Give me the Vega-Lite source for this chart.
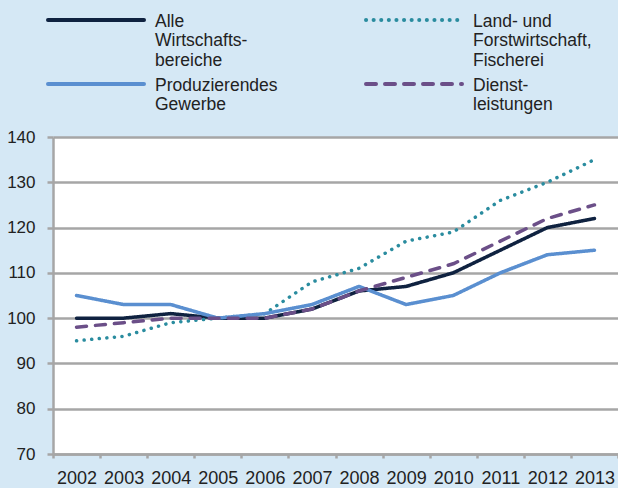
{
  "$schema": "https://vega.github.io/schema/vega-lite/v6.json",
  "width": 565,
  "height": 317,
  "autosize": {"type": "none"},
  "padding": {"left": 53, "top": 137, "right": 0, "bottom": 34},
  "background": "#d5e8f5",
  "config": {
    "font": "Liberation Sans",
    "view": {"fill": "white", "stroke": null}
  },
  "data": {
    "values": [
      {"year": "2002", "series": "Alle Wirtschaftsbereiche", "value": 100},
      {"year": "2003", "series": "Alle Wirtschaftsbereiche", "value": 100},
      {"year": "2004", "series": "Alle Wirtschaftsbereiche", "value": 101},
      {"year": "2005", "series": "Alle Wirtschaftsbereiche", "value": 100},
      {"year": "2006", "series": "Alle Wirtschaftsbereiche", "value": 100},
      {"year": "2007", "series": "Alle Wirtschaftsbereiche", "value": 102},
      {"year": "2008", "series": "Alle Wirtschaftsbereiche", "value": 106},
      {"year": "2009", "series": "Alle Wirtschaftsbereiche", "value": 107},
      {"year": "2010", "series": "Alle Wirtschaftsbereiche", "value": 110},
      {"year": "2011", "series": "Alle Wirtschaftsbereiche", "value": 115},
      {"year": "2012", "series": "Alle Wirtschaftsbereiche", "value": 120},
      {"year": "2013", "series": "Alle Wirtschaftsbereiche", "value": 122},
      {"year": "2002", "series": "Land- und Forstwirtschaft, Fischerei", "value": 95},
      {"year": "2003", "series": "Land- und Forstwirtschaft, Fischerei", "value": 96},
      {"year": "2004", "series": "Land- und Forstwirtschaft, Fischerei", "value": 99},
      {"year": "2005", "series": "Land- und Forstwirtschaft, Fischerei", "value": 100},
      {"year": "2006", "series": "Land- und Forstwirtschaft, Fischerei", "value": 101},
      {"year": "2007", "series": "Land- und Forstwirtschaft, Fischerei", "value": 108},
      {"year": "2008", "series": "Land- und Forstwirtschaft, Fischerei", "value": 111},
      {"year": "2009", "series": "Land- und Forstwirtschaft, Fischerei", "value": 117},
      {"year": "2010", "series": "Land- und Forstwirtschaft, Fischerei", "value": 119},
      {"year": "2011", "series": "Land- und Forstwirtschaft, Fischerei", "value": 126},
      {"year": "2012", "series": "Land- und Forstwirtschaft, Fischerei", "value": 130},
      {"year": "2013", "series": "Land- und Forstwirtschaft, Fischerei", "value": 135},
      {"year": "2002", "series": "Produzierendes Gewerbe", "value": 105},
      {"year": "2003", "series": "Produzierendes Gewerbe", "value": 103},
      {"year": "2004", "series": "Produzierendes Gewerbe", "value": 103},
      {"year": "2005", "series": "Produzierendes Gewerbe", "value": 100},
      {"year": "2006", "series": "Produzierendes Gewerbe", "value": 101},
      {"year": "2007", "series": "Produzierendes Gewerbe", "value": 103},
      {"year": "2008", "series": "Produzierendes Gewerbe", "value": 107},
      {"year": "2009", "series": "Produzierendes Gewerbe", "value": 103},
      {"year": "2010", "series": "Produzierendes Gewerbe", "value": 105},
      {"year": "2011", "series": "Produzierendes Gewerbe", "value": 110},
      {"year": "2012", "series": "Produzierendes Gewerbe", "value": 114},
      {"year": "2013", "series": "Produzierendes Gewerbe", "value": 115},
      {"year": "2002", "series": "Dienstleistungen", "value": 98},
      {"year": "2003", "series": "Dienstleistungen", "value": 99},
      {"year": "2004", "series": "Dienstleistungen", "value": 100},
      {"year": "2005", "series": "Dienstleistungen", "value": 100},
      {"year": "2006", "series": "Dienstleistungen", "value": 100},
      {"year": "2007", "series": "Dienstleistungen", "value": 102},
      {"year": "2008", "series": "Dienstleistungen", "value": 106},
      {"year": "2009", "series": "Dienstleistungen", "value": 109},
      {"year": "2010", "series": "Dienstleistungen", "value": 112},
      {"year": "2011", "series": "Dienstleistungen", "value": 117},
      {"year": "2012", "series": "Dienstleistungen", "value": 122},
      {"year": "2013", "series": "Dienstleistungen", "value": 125}
    ]
  },
  "mark": {"type": "line", "strokeWidth": 3.5, "strokeCap": "round", "strokeJoin": "round"},
  "encoding": {
    "x": {
      "field": "year",
      "type": "ordinal",
      "scale": {"type": "band", "paddingInner": 0, "paddingOuter": 0},
      "axis": {
        "title": null,
        "labelAngle": 0,
        "labelFontSize": 18,
        "labelColor": "#222222",
        "labelPadding": 11,
        "tickBand": "extent",
        "tickSize": 4,
        "tickWidth": 2.5,
        "tickColor": "#a6a6a6",
        "domainColor": "#a6a6a6",
        "domainWidth": 2.5,
        "grid": false
      }
    },
    "y": {
      "field": "value",
      "type": "quantitative",
      "scale": {"domain": [70, 140], "nice": false, "zero": false},
      "axis": {
        "title": null,
        "values": [70, 80, 90, 100, 110, 120, 130, 140],
        "labelFontSize": 17,
        "labelColor": "#222222",
        "labelPadding": 12,
        "tickSize": 6,
        "tickWidth": 2.5,
        "tickColor": "#a6a6a6",
        "domainColor": "#a6a6a6",
        "domainWidth": 2.5,
        "grid": true,
        "gridColor": "#a6a6a6",
        "gridWidth": 2.5
      }
    },
    "color": {
      "field": "series",
      "type": "nominal",
      "sort": null,
      "scale": {
        "domain": ["Alle Wirtschaftsbereiche", "Produzierendes Gewerbe", "Land- und Forstwirtschaft, Fischerei", "Dienstleistungen"],
        "range": ["#0f2240", "#5a8fd0", "#2a8c9f", "#6b4f88"]
      },
      "legend": {
        "title": null,
        "orient": "none",
        "legendX": 29,
        "legendY": -131,
        "columns": 2,
        "columnPadding": 80,
        "rowPadding": 1,
        "padding": 0,
        "symbolType": "M-4,0L4,0",
        "symbolSize": 576,
        "symbolStrokeWidth": 4,
        "labelOffset": 45,
        "labelFontSize": 17.5,
        "labelLineHeight": 20.5,
        "labelBaseline": "top",
        "labelColor": "#222222",
        "labelLimit": 0,
        "labelExpr": "datum.value == 'Alle Wirtschaftsbereiche' ? ['Alle', 'Wirtschafts-', 'bereiche'] : datum.value == 'Land- und Forstwirtschaft, Fischerei' ? ['Land- und', 'Forstwirtschaft,', 'Fischerei'] : datum.value == 'Produzierendes Gewerbe' ? ['Produzierendes', 'Gewerbe'] : ['Dienst-', 'leistungen']",
        "encode": {
          "labels": {"update": {"dy": {"value": -7.5}}},
          "symbols": {"update": {"strokeCap": {"value": "round"}}}
        }
      }
    },
    "strokeDash": {
      "field": "series",
      "type": "nominal",
      "sort": null,
      "scale": {
        "domain": ["Alle Wirtschaftsbereiche", "Produzierendes Gewerbe", "Land- und Forstwirtschaft, Fischerei", "Dienstleistungen"],
        "range": [[1, 0], [1, 0], [0.1, 7.5], [10, 9]]
      },
      "legend": null
    }
  }
}
